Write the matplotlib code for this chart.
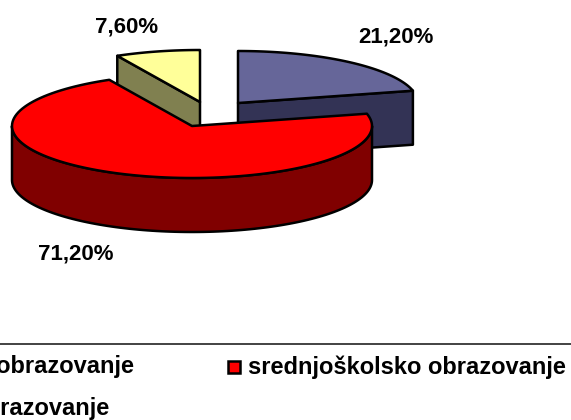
import numpy as np
import matplotlib
matplotlib.use("Agg")
import matplotlib.pyplot as plt
from matplotlib.patches import Polygon, Rectangle

categories = ["osnovno obrazovanje", "srednjoškolsko obrazovanje", "visoko obrazovanje"]
values = [21.2, 71.2, 7.6]
value_labels = ["21,20%", "71,20%", "7,60%"]

RX, RY, DEPTH = 180, 52, 54
centers = [(238, 103), (192, 126), (200, 102)]
top_cols = ["#666699", "#ff0000", "#ffff99"]
side_cols = ["#333355", "#800000", "#808050"]
label_pos = [(396, 37), (76, 254), (127, 27)]
FS = 16

plt.rcParams["font.family"] = ["Liberation Sans", "DejaVu Sans"]
fig = plt.figure(figsize=(5.71, 4.20), dpi=100)
ax = fig.add_axes([0, 0, 1, 1])
ax.set_xlim(0, 571)
ax.set_ylim(420, 0)
ax.axis("off")

fr = np.cumsum([0] + values) / sum(values) * 360
spans = list(zip(fr[:-1], fr[1:]))


def rim(c, a, b, n=120):
    t = np.radians(np.linspace(a, b, n))
    return np.c_[c[0] + RX * np.sin(t), c[1] - RY * np.cos(t)]


def draw(i, z):
    c = np.array(centers[i], float)
    a, b = spans[i]
    down = np.array([0, DEPTH])
    kw = dict(ec="black", lw=1.8, joinstyle="round", zorder=z)
    # radial cut faces that look towards the viewer
    for ang, visible in ((a, np.sin(np.radians(a)) < -1e-6), (b, np.sin(np.radians(b)) > 1e-6)):
        if visible:
            p = rim(c, ang, ang, 1)[0]
            ax.add_patch(Polygon([c, p, p + down, c + down], fc=side_cols[i], **kw))
    # outer wall
    lo, hi = max(a, 90), min(b, 270)
    if lo < hi:
        e = rim(c, lo, hi)
        ax.add_patch(Polygon(np.r_[e, (e + down)[::-1]], fc=side_cols[i], **kw))
    # top face
    ax.add_patch(Polygon(np.r_[[c], rim(c, a, b)], fc=top_cols[i], **kw))


for i, z in zip([0, 2, 1], [2, 3, 4]):
    draw(i, z)

for (x, y), s in zip(label_pos, value_labels):
    ax.text(x, y, s, ha="center", va="center", fontsize=FS, fontweight="bold", color="black")

# legend frame and entries, cropped by the picture edges
ax.plot([0, 571], [344, 344], color="#222222", lw=1.2)
LFS = 17
ax.text(134, 367, categories[0], ha="right", va="center", fontsize=LFS, fontweight="bold", clip_on=True)
ax.add_patch(Rectangle((228, 361), 12, 12, fc=top_cols[1], ec="black", lw=1.8))
ax.text(248, 367, categories[1], ha="left", va="center", fontsize=LFS, fontweight="bold")
ax.text(109, 408, categories[2], ha="right", va="center", fontsize=LFS, fontweight="bold", clip_on=True)

fig.savefig("out.png", dpi=100)
